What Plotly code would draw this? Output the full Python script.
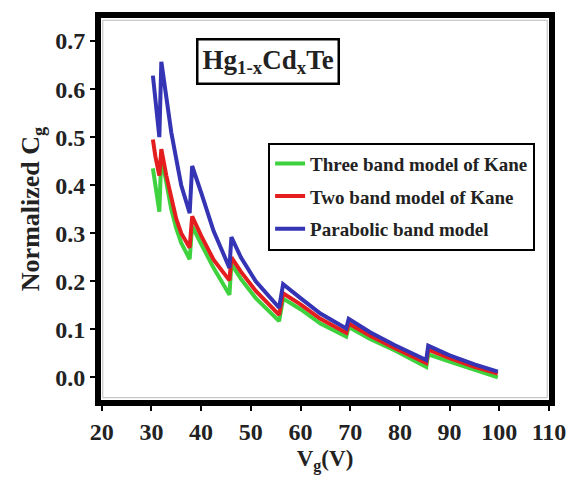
import plotly.graph_objects as go

# Gate voltage samples (V) and normalized gate capacitance for each band model
vg = [30.3, 30.8, 31.6, 32.0, 33.0, 34.0, 35.0, 36.0, 37.7,
      38.2, 40.0, 42.5, 45.7, 46.1, 48.0, 51.0, 55.7,
      56.5, 60.0, 64.0, 69.2, 69.7, 74.0, 79.0, 85.3,
      85.7, 90.0, 95.0, 99.7]

cg_parabolic = [0.628, 0.57, 0.50, 0.657, 0.58, 0.51, 0.455, 0.40, 0.342,
                0.44, 0.385, 0.305, 0.228, 0.292, 0.25, 0.20, 0.145,
                0.194, 0.165, 0.133, 0.102, 0.122, 0.094, 0.067, 0.036,
                0.066, 0.046, 0.027, 0.012]

cg_two_band = [0.495, 0.46, 0.42, 0.475, 0.42, 0.37, 0.33, 0.30, 0.27,
               0.335, 0.295, 0.245, 0.202, 0.25, 0.22, 0.18, 0.13,
               0.175, 0.152, 0.122, 0.093, 0.112, 0.087, 0.061, 0.03,
               0.058, 0.04, 0.022, 0.008]

cg_three_band = [0.435, 0.40, 0.345, 0.462, 0.40, 0.35, 0.31, 0.28, 0.246,
                 0.315, 0.278, 0.228, 0.172, 0.236, 0.205, 0.165, 0.117,
                 0.164, 0.142, 0.112, 0.085, 0.105, 0.08, 0.056, 0.022,
                 0.048, 0.033, 0.016, 0.0]

series_names = ["Three band model of Kane", "Two band model of Kane", "Parabolic band model"]
series_values = [cg_three_band, cg_two_band, cg_parabolic]
series_colors = ["#3fd23f", "#e41e1e", "#3434b4"]

x_ticks = [20, 30, 40, 50, 60, 70, 80, 90, 100, 110]
y_ticks = [0.0, 0.1, 0.2, 0.3, 0.4, 0.5, 0.6, 0.7]

SERIF = "Liberation Serif"

fig = go.Figure()
# parabolic ends up on top, three band at the bottom of the stack
for name, vals, col, grp in zip(series_names, series_values, series_colors, ["a", "b", "c"]):
    fig.add_trace(go.Scatter(
        x=vg, y=vals, mode="lines", name=name, legendgroup=grp,
        line=dict(color=col, width=4),
    ))

axis_common = dict(
    showline=True, linecolor="black", linewidth=6, mirror=True,
    ticks="outside", tickcolor="black", tickwidth=2, ticklen=5,
    showgrid=False, zeroline=False,
    tickfont=dict(family=SERIF, size=24, color="#222", weight="bold"),
)

fig.update_layout(
    width=578, height=481,
    margin=dict(l=101, r=26, t=17, b=76),
    paper_bgcolor="white", plot_bgcolor="white",
    showlegend=True,
    legend=dict(
        x=0.373, y=0.674, xanchor="left", yanchor="top",
        bgcolor="white", bordercolor="black", borderwidth=2,
        font=dict(family=SERIF, size=19, color="#222", weight="bold"),
        tracegroupgap=5, itemwidth=30,
    ),
    xaxis=dict(range=[19.86, 110], tickvals=x_ticks,
               title=dict(text="V<sub>g</sub>(V)", standoff=8,
                          font=dict(family=SERIF, size=23, color="#222", weight="bold")),
               **axis_common),
    yaxis=dict(range=[-0.047, 0.748], tickvals=y_ticks, tickformat=".1f",
               title=dict(text="Normalized C<sub>g</sub>", standoff=10,
                          font=dict(family=SERIF, size=26, color="#222", weight="bold")),
               **axis_common),
)

# material label in a framed box
fig.add_annotation(
    xref="paper", yref="paper", x=0.373, y=0.885, xanchor="center", yanchor="middle",
    text="Hg<sub>1-x</sub>Cd<sub>x</sub>Te", showarrow=False,
    font=dict(family=SERIF, size=27, color="#222", weight="bold"),
    bordercolor="black", borderwidth=2.5, borderpad=4, bgcolor="white",
)

# faint inner frame just inside the thick border
fig.add_shape(type="rect", xref="paper", yref="paper", x0=0.004, y0=0.006, x1=0.996, y1=0.994,
              line=dict(color="#bbbbbb", width=1), layer="below")

fig.write_html("out.html")
